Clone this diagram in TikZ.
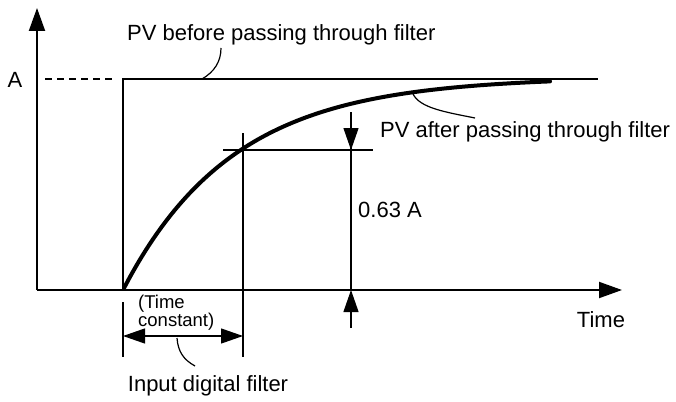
\documentclass[tikz,border=0pt]{standalone}
\usepackage{fontspec}
\setmainfont{Liberation Sans}
\usetikzlibrary{arrows.meta}
\begin{document}
\begin{tikzpicture}[x=1pt,y=-1pt,
  thin line/.style={line width=1.2pt},
  arr/.style={-{Triangle[length=22pt,width=15pt]}},
  lbl/.style={font=\fontsize{22}{24}\selectfont,inner sep=0pt},
  small/.style={font=\fontsize{18.5}{18}\selectfont,inner sep=0pt,align=left}]
\useasboundingbox (0,0) rectangle (676,401);
\coordinate (O) at (37,290);
\coordinate (ytop) at (37,8);
\coordinate (xend) at (622,290);
\draw[line width=2pt,-{Triangle[length=23pt,width=16pt]}] (O) -- (ytop);
\draw[line width=2pt,-{Triangle[length=23pt,width=16pt]}] (O) -- (xend);
% step
\draw[line width=1.8pt] (123,290) -- (123,79) -- (598,79);
\draw[line width=1.5pt,dash pattern=on 7pt off 5pt] (45,79) -- (115,79);
\node[lbl] (A) at (15,80) {A};
% filtered curve
\draw[line width=4pt,line cap=round] plot[domain=124:550,samples=80,smooth] (\x,{290-213*(1-exp(-(\x-123)/110))});
% time constant guides
\draw[thin line] (223,150) -- (373,150);
\draw[thin line] (243,133) -- (243,357);
\draw[thin line] (123,302) -- (123,357);
\draw[thin line] (351,112) -- (351,290);
\coordinate (dtop) at (351,112);
\coordinate (dtip) at (351,150);
\draw[thin line,arr] (dtop) -- (dtip);
\coordinate (ubot) at (351,328);
\coordinate (utip) at (351,290);
\draw[thin line,arr] (ubot) -- (utip);
\coordinate (L) at (123,336);
\coordinate (R) at (243,336);
\draw[thin line,arr] (183,336) -- (L);
\draw[thin line,arr] (183,336) -- (R);
\node[lbl,anchor=west] (v063) at (358,210) {0.63 A};
\node[small,anchor=north west] (tc) at (138,295) {(Time\\constant)};
\node[lbl] (idf) at (208,386) {Input digital filter};
\draw[thin line] (177,338) .. controls (178,352) and (184,360) .. (195,366);
\node[lbl,anchor=west] (pvb) at (127,35) {PV before passing through filter};
\draw[thin line] (221,48) .. controls (221,62) and (214,72) .. (202,79);
\node[lbl,anchor=west] (pva) at (380,132) {PV after passing through filter};
\draw[thin line] (413,94) .. controls (420,108) and (445,112) .. (475,118);
\node[lbl] (time) at (601,320) {Time};
\end{tikzpicture}
\end{document}
